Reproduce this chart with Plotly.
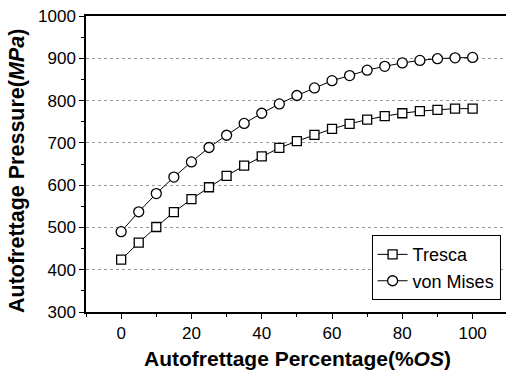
import plotly.graph_objects as go

os_pct = [0, 5, 10, 15, 20, 25, 30, 35, 40, 45, 50, 55, 60, 65, 70, 75, 80, 85, 90, 95, 100]
tresca = [424, 464, 501, 536, 567, 595, 622, 646, 668, 688, 704, 719, 733, 745, 755, 763, 770, 775, 778, 781, 781]
von_mises = [490, 537, 580, 619, 655, 689, 718, 746, 770, 792, 812, 830, 847, 859, 872, 881, 889, 895, 899, 901, 902]

fig = go.Figure()
fig.add_trace(go.Scatter(
    x=os_pct, y=tresca, name="Tresca", mode="lines+markers",
    line=dict(color="black", width=1),
    marker=dict(symbol="square", size=9, color="white", line=dict(color="black", width=1.3)),
))
fig.add_trace(go.Scatter(
    x=os_pct, y=von_mises, name="von Mises", mode="lines+markers",
    line=dict(color="black", width=1),
    marker=dict(symbol="circle", size=10, color="white", line=dict(color="black", width=1.3)),
))

fig.update_layout(
    width=506, height=372,
    margin=dict(l=86, r=0, t=16, b=60, autoexpand=False),
    paper_bgcolor="white", plot_bgcolor="white",
    font=dict(family="Liberation Sans, Arial, sans-serif", color="black", size=17),
    showlegend=True,
    legend=dict(
        x=0.68, y=0.04, xanchor="left", yanchor="bottom",
        bordercolor="black", borderwidth=1, bgcolor="white",
        font=dict(size=18), tracegroupgap=0, itemwidth=30,
    ),
    xaxis=dict(
        range=[-10, 109.5], tickvals=[0, 20, 40, 60, 80, 100],
        showline=True, linecolor="black", linewidth=1.5, mirror=True,
        ticks="outside", ticklen=5, tickcolor="black",
        minor=dict(dtick=10, ticks="outside", ticklen=3, tickcolor="black"),
        showgrid=False, zeroline=False, automargin=False,
    ),
    yaxis=dict(
        range=[300, 1000], tickvals=[300, 400, 500, 600, 700, 800, 900, 1000],
        showline=True, linecolor="black", linewidth=1.5,
        ticks="outside", ticklen=5, tickcolor="black",
        minor=dict(dtick=50, ticks="outside", ticklen=3, tickcolor="black", showgrid=False),
        showgrid=True, gridcolor="#999999", griddash="dot", gridwidth=1,
        zeroline=False, automargin=False,
    ),
    annotations=[
        dict(text="<b>Autofrettage Percentage(%<i>OS</i>)</b>", xref="paper", yref="paper",
             x=(297 - 86) / 420, y=-46 / 296, xanchor="center", yanchor="middle",
             showarrow=False, font=dict(size=21)),
        dict(text="<b>Autofrettage Pressure(<i>MPa</i>)</b>", xref="paper", yref="paper",
             x=-69 / 420, y=(312 - 171) / 296, xanchor="center", yanchor="middle",
             textangle=-90, showarrow=False, font=dict(size=21.5)),
    ],
)

fig.write_html("out.html", config={"displayModeBar": False},
               post_script="document.body.style.margin='0';")
